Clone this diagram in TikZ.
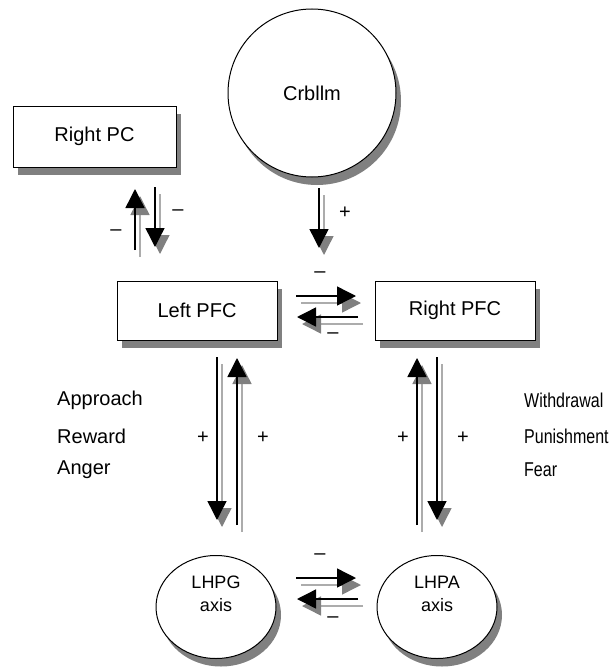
\documentclass[tikz,border=0pt]{standalone}
\usepackage{fontspec}
\setmainfont{Liberation Sans}
\usetikzlibrary{arrows.meta,shapes.geometric,shadows,calc}
\newcommand\shadarrow[2]{%
  \draw[sarr] ($(#1)+(5,7)$) -- ($(#2)+(5,7)$);
  \draw[arr] (#1) -- (#2);}
\newcommand\narrowtext[1]{\scalebox{0.8}[1]{#1}}
\begin{document}
\begin{tikzpicture}[x=1pt,y=-1pt,
  font=\fontsize{20}{24}\selectfont,
  myshadow/.style={drop shadow={shadow xshift=5pt,shadow yshift=-8pt,fill=gray,opacity=1}},
  box/.style={draw=black,line width=1pt,fill=white,rectangle,minimum width=160pt,minimum height=59pt,inner sep=0pt,myshadow},
  bigcirc/.style={draw=black,line width=1pt,fill=white,circle,minimum size=168pt,inner sep=0pt,myshadow},
  axisell/.style={draw=black,line width=1pt,fill=white,ellipse,minimum width=120pt,minimum height=103pt,inner sep=0pt,myshadow},
  axistext/.style={align=center,yshift=13pt,font=\fontsize{18}{23}\selectfont},
  arr/.style={line width=1.4pt,draw=black,-{Triangle[width=19pt,length=19pt]}},
  sarr/.style={line width=1.4pt,draw=gray!65,-{Triangle[width=19pt,length=19pt,color=gray,fill=gray]}},
  sign/.style={inner sep=0pt},
  side/.style={anchor=west,inner sep=0pt}]
\useasboundingbox (0,0) rectangle (610,669);

% nodes
\node[box,minimum width=163pt,minimum height=61pt] (rpc) at (94.5,136.5) {Right PC};
\node[bigcirc] (crb) at (312,93) {Crbllm};
\node[box] (lpfc) at (197,310.5) {Left PFC};
\node[box] (rpfc) at (455,310.5) {Right PFC};
\node[axisell,label={[axistext]center:LHPG\\axis}] (lhpg) at (216,607) {};
\node[axisell,label={[axistext]center:LHPA\\axis}] (lhpa) at (437,607) {};

% arrow end points
\coordinate (a1s) at (135,250); \coordinate (a1e) at (135,189);
\coordinate (a2s) at (155,187); \coordinate (a2e) at (155,247);
\coordinate (a3s) at (319,188); \coordinate (a3e) at (319,248);
\coordinate (a4s) at (296,296); \coordinate (a4e) at (356,296);
\coordinate (a5s) at (358,317); \coordinate (a5e) at (297,317);
\coordinate (a6s) at (217,357); \coordinate (a6e) at (217,520);
\coordinate (a7s) at (237,525); \coordinate (a7e) at (237,358);
\coordinate (a8s) at (437,357); \coordinate (a8e) at (437,520);
\coordinate (a9s) at (417,525); \coordinate (a9e) at (417,358);
\coordinate (a10s) at (296,578); \coordinate (a10e) at (356,578);
\coordinate (a11s) at (358,599); \coordinate (a11e) at (297,599);

\shadarrow{a1s}{a1e}
\shadarrow{a2s}{a2e}
\shadarrow{a3s}{a3e}
\shadarrow{a4s}{a4e}
\shadarrow{a5s}{a5e}
\shadarrow{a6s}{a6e}
\shadarrow{a7s}{a7e}
\shadarrow{a8s}{a8e}
\shadarrow{a9s}{a9e}
\shadarrow{a10s}{a10e}
\shadarrow{a11s}{a11e}

% signs
\node[sign] (m1) at (178,213) {–};
\node[sign] (m2) at (116,233) {–};
\node[sign] (p1) at (345,213) {+};
\node[sign] (m3) at (320,275) {–};
\node[sign] (m4) at (333,336) {–};
\node[sign] (m5) at (320,557) {–};
\node[sign] (m6) at (333,620) {–};
\node[sign] (p2) at (203,438) {+};
\node[sign] (p3) at (263,438) {+};
\node[sign] (p4) at (403,438) {+};
\node[sign] (p5) at (463,438) {+};

% side labels
\node[side] (l1) at (57,400) {Approach};
\node[side] (l2) at (57,436) {Reward};
\node[side] (l3) at (57,470) {Anger};
\node[side] (r1) at (524,400) {\narrowtext{Withdrawal}};
\node[side] (r2) at (524,436) {\narrowtext{Punishment}};
\node[side] (r3) at (524,470) {\narrowtext{Fear}};
\end{tikzpicture}
\end{document}
